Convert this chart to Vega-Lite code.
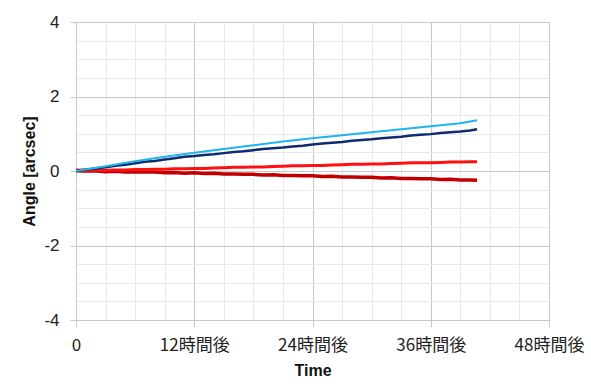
{
  "$schema": "https://vega.github.io/schema/vega-lite/v6.json",
  "width": 473,
  "height": 298,
  "autosize": {"type": "none"},
  "padding": {"left": 76, "top": 22, "right": 42, "bottom": 72},
  "background": "white",
  "config": {"view": {"stroke": null}},
  "datasets": {
    "series": [
      {"t": 0, "s": "s4", "v": 0.01}, {"t": 1, "s": "s4", "v": 0.00}, {"t": 2, "s": "s4", "v": 0.00}, {"t": 3, "s": "s4", "v": -0.02},
      {"t": 4, "s": "s4", "v": -0.01}, {"t": 5, "s": "s4", "v": -0.03}, {"t": 6, "s": "s4", "v": -0.02}, {"t": 7, "s": "s4", "v": -0.03},
      {"t": 8, "s": "s4", "v": -0.03}, {"t": 9, "s": "s4", "v": -0.05}, {"t": 10, "s": "s4", "v": -0.04}, {"t": 11, "s": "s4", "v": -0.06},
      {"t": 12, "s": "s4", "v": -0.05}, {"t": 13, "s": "s4", "v": -0.07}, {"t": 14, "s": "s4", "v": -0.06}, {"t": 15, "s": "s4", "v": -0.08},
      {"t": 16, "s": "s4", "v": -0.08}, {"t": 17, "s": "s4", "v": -0.09}, {"t": 18, "s": "s4", "v": -0.09}, {"t": 19, "s": "s4", "v": -0.11},
      {"t": 20, "s": "s4", "v": -0.10}, {"t": 21, "s": "s4", "v": -0.12}, {"t": 22, "s": "s4", "v": -0.12}, {"t": 23, "s": "s4", "v": -0.13},
      {"t": 24, "s": "s4", "v": -0.13}, {"t": 25, "s": "s4", "v": -0.15}, {"t": 26, "s": "s4", "v": -0.14}, {"t": 27, "s": "s4", "v": -0.16},
      {"t": 28, "s": "s4", "v": -0.16}, {"t": 29, "s": "s4", "v": -0.17}, {"t": 30, "s": "s4", "v": -0.17}, {"t": 31, "s": "s4", "v": -0.19},
      {"t": 32, "s": "s4", "v": -0.18}, {"t": 33, "s": "s4", "v": -0.20}, {"t": 34, "s": "s4", "v": -0.20}, {"t": 35, "s": "s4", "v": -0.21},
      {"t": 36, "s": "s4", "v": -0.21}, {"t": 37, "s": "s4", "v": -0.23}, {"t": 38, "s": "s4", "v": -0.22}, {"t": 39, "s": "s4", "v": -0.24},
      {"t": 40, "s": "s4", "v": -0.24}, {"t": 40.7, "s": "s4", "v": -0.25},

      {"t": 0, "s": "s3", "v": 0.03}, {"t": 1, "s": "s3", "v": 0.02}, {"t": 2, "s": "s3", "v": 0.03}, {"t": 3, "s": "s3", "v": 0.02},
      {"t": 4, "s": "s3", "v": 0.03}, {"t": 5, "s": "s3", "v": 0.03}, {"t": 6, "s": "s3", "v": 0.04}, {"t": 7, "s": "s3", "v": 0.04},
      {"t": 8, "s": "s3", "v": 0.05}, {"t": 9, "s": "s3", "v": 0.05}, {"t": 10, "s": "s3", "v": 0.06}, {"t": 11, "s": "s3", "v": 0.06},
      {"t": 12, "s": "s3", "v": 0.07}, {"t": 13, "s": "s3", "v": 0.07}, {"t": 14, "s": "s3", "v": 0.08}, {"t": 15, "s": "s3", "v": 0.09},
      {"t": 16, "s": "s3", "v": 0.10}, {"t": 17, "s": "s3", "v": 0.10}, {"t": 18, "s": "s3", "v": 0.11}, {"t": 19, "s": "s3", "v": 0.11},
      {"t": 20, "s": "s3", "v": 0.12}, {"t": 21, "s": "s3", "v": 0.13}, {"t": 22, "s": "s3", "v": 0.14}, {"t": 23, "s": "s3", "v": 0.14},
      {"t": 24, "s": "s3", "v": 0.15}, {"t": 25, "s": "s3", "v": 0.15}, {"t": 26, "s": "s3", "v": 0.16}, {"t": 27, "s": "s3", "v": 0.17},
      {"t": 28, "s": "s3", "v": 0.18}, {"t": 29, "s": "s3", "v": 0.18}, {"t": 30, "s": "s3", "v": 0.19}, {"t": 31, "s": "s3", "v": 0.19},
      {"t": 32, "s": "s3", "v": 0.20}, {"t": 33, "s": "s3", "v": 0.21}, {"t": 34, "s": "s3", "v": 0.22}, {"t": 35, "s": "s3", "v": 0.22},
      {"t": 36, "s": "s3", "v": 0.22}, {"t": 37, "s": "s3", "v": 0.23}, {"t": 38, "s": "s3", "v": 0.24}, {"t": 39, "s": "s3", "v": 0.24},
      {"t": 40, "s": "s3", "v": 0.25}, {"t": 40.7, "s": "s3", "v": 0.25},

      {"t": 0, "s": "s2", "v": 0.00}, {"t": 1, "s": "s2", "v": 0.04}, {"t": 2, "s": "s2", "v": 0.07}, {"t": 3, "s": "s2", "v": 0.10},
      {"t": 4, "s": "s2", "v": 0.14}, {"t": 5, "s": "s2", "v": 0.17}, {"t": 6, "s": "s2", "v": 0.21}, {"t": 7, "s": "s2", "v": 0.25},
      {"t": 8, "s": "s2", "v": 0.27}, {"t": 9, "s": "s2", "v": 0.31}, {"t": 10, "s": "s2", "v": 0.34}, {"t": 11, "s": "s2", "v": 0.38},
      {"t": 12, "s": "s2", "v": 0.40}, {"t": 13, "s": "s2", "v": 0.43}, {"t": 14, "s": "s2", "v": 0.45}, {"t": 15, "s": "s2", "v": 0.48},
      {"t": 16, "s": "s2", "v": 0.51}, {"t": 17, "s": "s2", "v": 0.53}, {"t": 18, "s": "s2", "v": 0.56}, {"t": 19, "s": "s2", "v": 0.59},
      {"t": 20, "s": "s2", "v": 0.61}, {"t": 21, "s": "s2", "v": 0.63}, {"t": 22, "s": "s2", "v": 0.66}, {"t": 23, "s": "s2", "v": 0.68},
      {"t": 24, "s": "s2", "v": 0.71}, {"t": 25, "s": "s2", "v": 0.74}, {"t": 26, "s": "s2", "v": 0.76}, {"t": 27, "s": "s2", "v": 0.78},
      {"t": 28, "s": "s2", "v": 0.81}, {"t": 29, "s": "s2", "v": 0.83}, {"t": 30, "s": "s2", "v": 0.85}, {"t": 31, "s": "s2", "v": 0.88},
      {"t": 32, "s": "s2", "v": 0.90}, {"t": 33, "s": "s2", "v": 0.92}, {"t": 34, "s": "s2", "v": 0.95}, {"t": 35, "s": "s2", "v": 0.97},
      {"t": 36, "s": "s2", "v": 0.99}, {"t": 37, "s": "s2", "v": 1.02}, {"t": 38, "s": "s2", "v": 1.04}, {"t": 39, "s": "s2", "v": 1.06},
      {"t": 40, "s": "s2", "v": 1.09}, {"t": 40.7, "s": "s2", "v": 1.12},

      {"t": 0, "s": "s1", "v": 0.00}, {"t": 3, "s": "s1", "v": 0.13}, {"t": 6, "s": "s1", "v": 0.26}, {"t": 9, "s": "s1", "v": 0.38},
      {"t": 12, "s": "s1", "v": 0.49}, {"t": 15, "s": "s1", "v": 0.59}, {"t": 18, "s": "s1", "v": 0.69}, {"t": 21, "s": "s1", "v": 0.79},
      {"t": 24, "s": "s1", "v": 0.88}, {"t": 27, "s": "s1", "v": 0.96}, {"t": 30, "s": "s1", "v": 1.04}, {"t": 33, "s": "s1", "v": 1.12},
      {"t": 36, "s": "s1", "v": 1.20}, {"t": 39, "s": "s1", "v": 1.28}, {"t": 40.7, "s": "s1", "v": 1.36}
    ]
  },
  "data": {"name": "series"},
  "mark": {"type": "line", "clip": true},
  "encoding": {
    "x": {
      "field": "t",
      "type": "quantitative",
      "title": "Time",
      "scale": {"domain": [0, 48], "nice": false, "zero": false},
      "axis": {
        "values": [0, 3, 6, 9, 12, 15, 18, 21, 24, 27, 30, 33, 36, 39, 42, 45, 48],
        "labelExpr": "datum.value % 12 === 0 ? (datum.value === 0 ? '0' : datum.value + '時間後') : ''",
        "labelOverlap": false,
        "labelFont": "Noto Sans CJK JP",
        "labelFontSize": 17,
        "labelColor": "#222222",
        "labelPadding": 10,
        "labelFlush": false,
        "domain": false,
        "tickSize": 7,
        "tickColor": "#c8c8c8",
        "tickOpacity": {"condition": {"test": "datum.value % 12 === 0", "value": 1}, "value": 0},
        "gridColor": {"condition": {"test": "datum.value % 12 === 0", "value": "#c8c8c8"}, "value": "#e8e8e8"},
        "titleFont": "Liberation Sans",
        "titleFontSize": 16,
        "titleFontWeight": "bold",
        "titleColor": "#111111",
        "titlePadding": 9
      }
    },
    "y": {
      "field": "v",
      "type": "quantitative",
      "title": "Angle [arcsec]",
      "scale": {"domain": [-4, 4], "nice": false},
      "axis": {
        "values": [-4, -3.5, -3, -2.5, -2, -1.5, -1, -0.5, 0, 0.5, 1, 1.5, 2, 2.5, 3, 3.5, 4],
        "labelExpr": "datum.value % 2 === 0 ? ('' + datum.value) : ''",
        "labelOverlap": false,
        "labelFont": "Liberation Sans",
        "labelFontSize": 17,
        "labelColor": "#222222",
        "labelPadding": 11,
        "labelFlush": false,
        "domain": false,
        "tickSize": 6,
        "tickColor": "#c8c8c8",
        "tickOpacity": {"condition": {"test": "datum.value % 2 === 0", "value": 1}, "value": 0},
        "gridColor": {"condition": {"test": "datum.value % 2 === 0", "value": "#c8c8c8"}, "value": "#e8e8e8"},
        "titleFont": "Liberation Sans",
        "titleFontSize": 16,
        "titleFontWeight": "bold",
        "titleColor": "#111111",
        "titlePadding": 6
      }
    },
    "color": {
      "field": "s",
      "type": "nominal",
      "scale": {"domain": ["s1", "s2", "s3", "s4"], "range": ["#1EB4EE", "#0F2A6E", "#FF1010", "#C00000"]},
      "legend": null
    },
    "strokeWidth": {
      "field": "s",
      "type": "nominal",
      "scale": {"domain": ["s1", "s2", "s3", "s4"], "range": [2, 3.5, 2.5, 3.5]},
      "legend": null
    },
    "order": {"field": "t", "type": "quantitative"}
  }
}
